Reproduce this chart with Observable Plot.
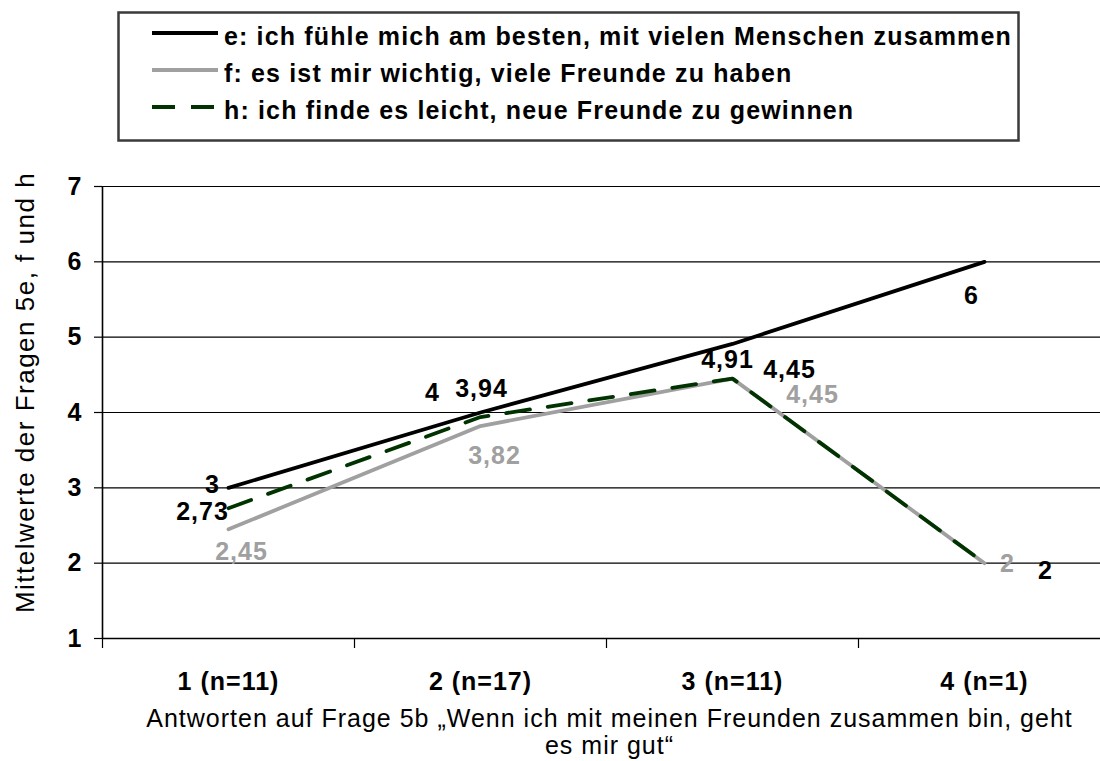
<!DOCTYPE html>
<html>
<head>
<meta charset="utf-8">
<script src="https://cdn.jsdelivr.net/npm/d3@7"></script>
<script src="https://cdn.jsdelivr.net/npm/@observablehq/plot@0.6"></script>
<style>
  html, body { margin: 0; padding: 0; background: white; overflow: hidden; }
  #chart svg text, #legend svg text { letter-spacing: 1px; }
  #chart svg text[transform*="rotate"] { letter-spacing: 1.5px; }
  #legend svg text { letter-spacing: 1.15px; }
  #legend, #chart { display: block; line-height: 0; }
</style>
</head>
<body>
<div id="legend"></div>
<div id="chart"></div>
<script>
// ---- data ----
const categories = ["1 (n=11)", "2 (n=17)", "3 (n=11)", "4 (n=1)"];
const seriesE = [3, 4, 4.91, 6];
const seriesF = [2.45, 3.82, 4.45, 2];
const seriesH = [2.73, 3.94, 4.45, 2];
const yTicks = [1, 2, 3, 4, 5, 6, 7];
const legendLabels = [
  "e: ich fühle mich am besten, mit vielen Menschen zusammen",
  "f: es ist mir wichtig, viele Freunde zu haben",
  "h: ich finde es leicht, neue Freunde zu gewinnen"
];
const xTitle = "Antworten auf Frage 5b „Wenn ich mit meinen Freunden zusammen bin, geht\nes mir gut“";
const yTitle = "Mittelwerte der Fragen 5e, f und h";

// ---- styles / label placement (pixels, not data) ----
const FONT = "'Liberation Sans', Arial, Helvetica, sans-serif";
const colE = "#000000", colF = "#a0a0a0", colH = "#003300";
const dashH = "24,18";
const offE = [[-16, -3], [-48, -20], [-5, 16], [-13, 34]];
const offF = [[13, 23], [14, 30], [80, 16], [23, 1]];
const offH = [[-26, 4], [1, -28], [57, -9], [61, 8]];

const fmt = v => String(v).replace(".", ",");
const rows = categories.map((c, i) => ({x: i + 1, cat: c, e: seriesE[i], f: seriesF[i], h: seriesH[i]}));

// ---- legend (above the plot svg) ----
const series = [
  {label: legendLabels[0], color: colE, dash: null},
  {label: legendLabels[1], color: colF, dash: null},
  {label: legendLabels[2], color: colH, dash: "23,16"}
];
const lsvg = d3.select("#legend").append("svg")
  .attr("width", 1100).attr("height", 150)
  .style("font-family", FONT);
lsvg.append("rect")
  .attr("x", 118.5).attr("y", 12.5).attr("width", 900).attr("height", 128)
  .attr("fill", "white").attr("stroke", "#3a3a3a").attr("stroke-width", 2.5);
const lg = lsvg.selectAll("g.item").data(series).join("g")
  .attr("transform", (d, i) => `translate(0, ${33 + i * 37})`);
lg.append("line")
  .attr("x1", 152).attr("x2", 218).attr("y1", 0).attr("y2", 0)
  .attr("stroke", d => d.color).attr("stroke-width", 4)
  .attr("stroke-dasharray", d => d.dash);
lg.append("text")
  .attr("x", 224).attr("y", 12)
  .attr("font-size", 25).attr("font-weight", "bold").attr("fill", "black")
  .text(d => d.label);

// ---- plot ----
function valueLabels(values, offsets, color) {
  return values.map((v, i) => Plot.text([v], {
    x: () => i + 1, y: d => d, text: d => fmt(d),
    dx: offsets[i][0], dy: offsets[i][1],
    fill: color, fontSize: 25, fontWeight: "bold",
    textAnchor: "middle", lineAnchor: "middle"
  }));
}

const chart = Plot.plot({
  width: 1100,
  height: 611,
  marginLeft: 102,
  marginRight: 0,
  marginTop: 36,
  marginBottom: 123,
  style: {fontFamily: FONT, background: "white", color: "black", maxWidth: "none"},
  x: {domain: [0.5, 4.5], range: [102, 1110], label: null},
  y: {domain: [1, 7], label: null},
  marks: [
    Plot.ruleY(yTicks.slice(1), {stroke: "black", strokeWidth: 1.2}),
    Plot.ruleY([1], {stroke: "black", strokeWidth: 1.6}),
    Plot.ruleX([0.5], {y1: 1, y2: 7, stroke: "black", strokeWidth: 1.6}),
    Plot.axisY({ticks: yTicks, tickSize: 8, tickPadding: 12, tickFormat: d => String(d),
      fontSize: 25, fontWeight: "bold", strokeWidth: 1.2}),
    Plot.axisX({ticks: [0.5, 1.5, 2.5, 3.5, 4.5], tickSize: 10, tickFormat: () => "", strokeWidth: 1.2}),
    Plot.axisX({ticks: [1, 2, 3, 4], tickSize: 0, tickPadding: 34, tickFormat: d => categories[d - 1],
      fontSize: 25, fontWeight: "bold"}),
    Plot.line(rows, {x: "x", y: "e", stroke: colE, strokeWidth: 3.8, strokeLinejoin: "miter"}),
    Plot.line(rows, {x: "x", y: "f", stroke: colF, strokeWidth: 3.8, strokeLinejoin: "miter"}),
    Plot.line(rows, {x: "x", y: "h", stroke: colH, strokeWidth: 3.8, strokeDasharray: dashH, strokeLinejoin: "miter"}),
    ...valueLabels(seriesE, offE, "black"),
    ...valueLabels(seriesH, offH, "black"),
    ...valueLabels(seriesF, offF, colF),
    Plot.text([xTitle], {frameAnchor: "bottom", text: d => d, dx: 8, dy: 69, lineAnchor: "top",
      textAnchor: "middle", lineHeight: 1.08, fontSize: 25, fill: "black"}),
    Plot.text([yTitle], {frameAnchor: "left", text: d => d, rotate: -90, dx: -77, dy: -20,
      textAnchor: "middle", lineAnchor: "middle", fontSize: 26, fill: "black"})
  ]
});
document.getElementById("chart").appendChild(chart);
</script>
</body>
</html>
